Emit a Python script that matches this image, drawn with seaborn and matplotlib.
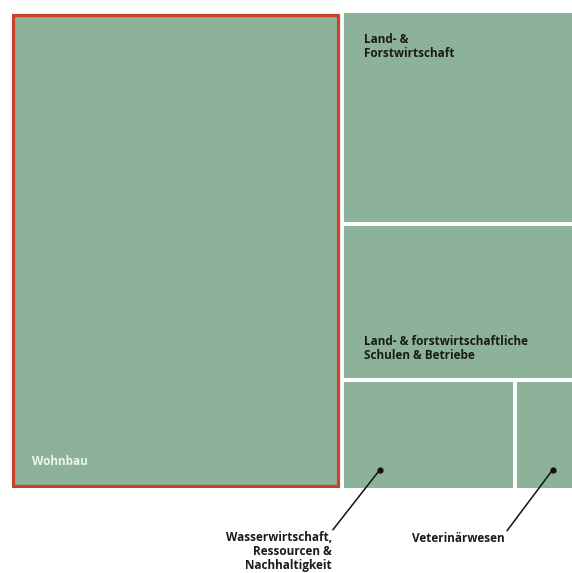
import matplotlib
matplotlib.use("Agg")
import matplotlib.pyplot as plt
import seaborn as sns

labels = ["Wohnbau", "Land- &\nForstwirtschaft", "Land- & forstwirtschaftliche\nSchulen & Betriebe",
          "Wasserwirtschaft,\nRessourcen &\nNachhaltigkeit", "Veterinärwesen"]
values = [59.0, 18.2, 13.5, 7.0, 2.3]

green = "#8cb399"
red = "#c9432c"

sns.set_theme(style="white")
plt.rcParams['font.family'] = ['Open Sans', 'DejaVu Sans']

fig = plt.figure(figsize=(5.72, 5.73), dpi=100)
ax = fig.add_axes([12 / 572, 85 / 573, 560 / 572, 475 / 573])
ax.set_xlim(0, 100)
ax.set_ylim(100, 0)
ax.axis("off")

total = sum(values)
# simple slice-and-dice layout
w0 = values[0] / total * 100
rest = sum(values[1:])
h1 = values[1] / rest * 100
h2 = values[2] / rest * 100
h3 = 100 - h1 - h2
bottom_sum = values[3] + values[4]
w3 = values[3] / bottom_sum * (100 - w0)
w4 = (100 - w0) - w3

rects = [
    (0, 0, w0, 100),
    (w0, 0, 100 - w0, h1),
    (w0, h1, 100 - w0, h2),
    (w0, h1 + h2, w3, h3),
    (w0 + w3, h1 + h2, w4, h3),
]

gx = 2 / 5.6
gy = 2 / 4.75
for i, (x, y, w, h) in enumerate(rects):
    if i == 0:
        ax.bar(x + 0.15, h - 0.7, width=w - gx - 0.5, bottom=y + 0.35, align="edge",
               color=green, edgecolor=red, linewidth=2.3)
    else:
        top = y + (gy if y > 0 else 0)
        bot = y + h - (gy if y + h < 100 else 0)
        left = x + gx
        right = x + w - (gx if x + w < 100 else 0)
        ax.bar(left, bot - top, width=right - left, bottom=top, align="edge",
               color=green, linewidth=0)

tkw = dict(fontsize=8.5, fontweight="bold", va="top", ha="left", linespacing=1.1)
ax.text(rects[0][0] + 3.6, 94.4, labels[0], color="#eef3ec", **{**tkw, "va": "center"})
ax.text(rects[1][0] + 3.9, 4.3, labels[1], color="#1a1a1a", **tkw)
ax.text(rects[2][0] + 3.9, h1 + 23.3, labels[2], color="#1a1a1a", **tkw)

dot_kw = dict(color="#111111", ms=3.5, clip_on=False)
line_kw = dict(color="#111111", lw=1.1, clip_on=False)
x3, y3, _, _ = rects[3]
d3 = (x3 + 6.7, y3 + 0.83 * h3)
ax.plot([d3[0], 57.3], [d3[1], 108.8], **line_kw)
ax.plot(*d3, "o", **dot_kw)
ax.text(57.1, 109.1, labels[3], fontsize=8.5, fontweight="bold", color="#1a1a1a",
        ha="right", va="top", linespacing=1.1)
x4, y4, _, _ = rects[4]
d4 = (x4 + 6.7, y4 + 0.83 * h3)
ax.plot([d4[0], 88.4], [d4[1], 109.0], **line_kw)
ax.plot(*d4, "o", **dot_kw)
ax.text(87.9, 110.7, labels[4], fontsize=8.5, fontweight="bold", color="#1a1a1a",
        ha="right", va="center")

fig.savefig("out.png", dpi=100)
